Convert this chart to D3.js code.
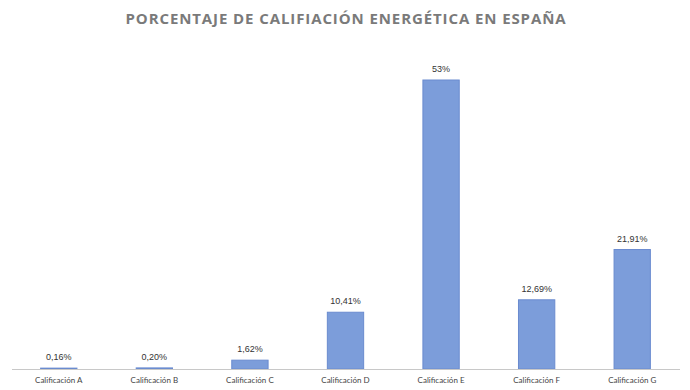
<!DOCTYPE html>
<html>
<head>
<meta charset="utf-8">
<script src="https://cdn.jsdelivr.net/npm/d3@7"></script>
<style>
  body { margin: 0; background: #fff; }
</style>
</head>
<body>
<svg id="chart" width="690" height="390"></svg>
<script>
const categories = ["Calificación A", "Calificación B", "Calificación C", "Calificación D", "Calificación E", "Calificación F", "Calificación G"];
const values = [0.16, 0.20, 1.62, 10.41, 53, 12.69, 21.91];
const valueLabels = ["0,16%", "0,20%", "1,62%", "10,41%", "53%", "12,69%", "21,91%"];

const svg = d3.select("#chart");
const baseY = 369;

const x = d3.scaleBand()
  .domain(categories)
  .range([11, 680])
  .paddingInner(0.62)
  .paddingOuter(0.31);

const y = d3.scaleLinear()
  .domain([0, 53])
  .range([baseY, 80]);

// title
svg.append("text")
  .text("PORCENTAJE DE CALIFIACIÓN ENERGÉTICA EN ESPAÑA")
  .attr("x", 346)
  .attr("y", 24)
  .attr("text-anchor", "middle")
  .attr("font-family", "Open Sans, sans-serif")
  .attr("font-weight", "bold")
  .attr("font-size", 15)
  .attr("letter-spacing", 0.9)
  .attr("fill", "#7a7a7a");

// bars
svg.selectAll("rect.bar")
  .data(values)
  .join("rect")
  .attr("class", "bar")
  .attr("x", (d, i) => x(categories[i]))
  .attr("width", x.bandwidth())
  .attr("y", d => y(d))
  .attr("height", d => baseY - y(d))
  .attr("fill", "#7c9dda")
  .attr("stroke", "#6a8bcf")
  .attr("stroke-width", 1);

// axis line
svg.append("line")
  .attr("x1", 12)
  .attr("x2", 680)
  .attr("y1", baseY + 0.5)
  .attr("y2", baseY + 0.5)
  .attr("stroke", "#c8c8c8")
  .attr("stroke-width", 1);

// value labels
svg.selectAll("text.val")
  .data(values)
  .join("text")
  .attr("class", "val")
  .text((d, i) => valueLabels[i])
  .attr("x", (d, i) => x(categories[i]) + x.bandwidth() / 2)
  .attr("y", d => y(d) - 8)
  .attr("text-anchor", "middle")
  .attr("font-family", "Liberation Sans, Arial, sans-serif")
  .attr("font-size", 9)
  .attr("fill", "#333");

// category labels
svg.selectAll("text.cat")
  .data(categories)
  .join("text")
  .attr("class", "cat")
  .text(d => d)
  .attr("x", d => x(d) + x.bandwidth() / 2)
  .attr("y", 383)
  .attr("text-anchor", "middle")
  .attr("font-family", "Lato, sans-serif")
  .attr("font-size", 8)
  .attr("fill", "#444");
</script>
</body>
</html>
